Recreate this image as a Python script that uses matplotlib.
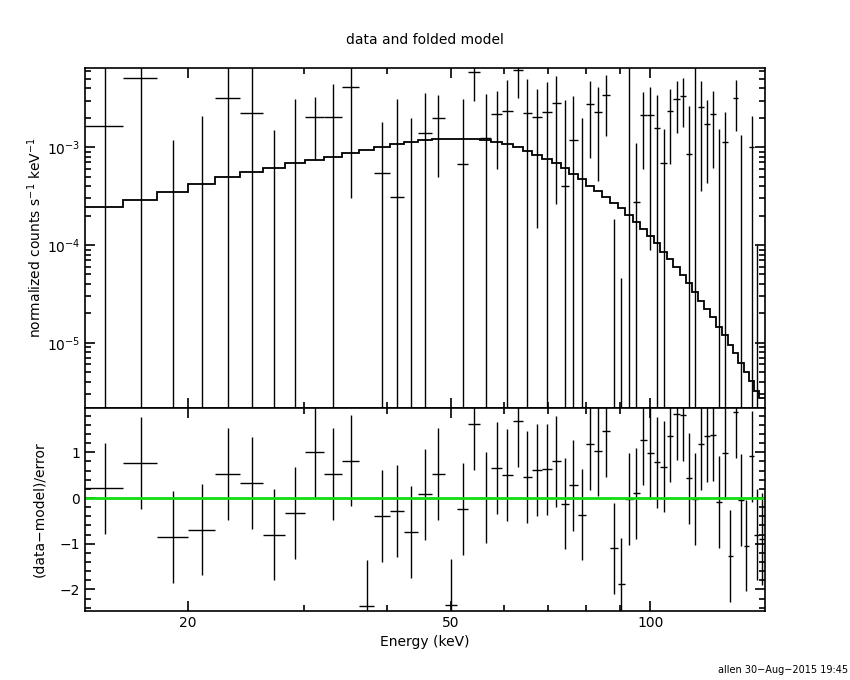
"""XSPEC-style plot: data and folded model with residuals."""

import matplotlib

matplotlib.use("Agg")
import matplotlib.pyplot as plt  # noqa: E402
import numpy as np  # noqa: E402
from matplotlib.ticker import FixedLocator, LogLocator, MultipleLocator, NullFormatter  # noqa: E402

# channel edges (keV)
edges = [14.0, 16.0, 18.0, 20.0, 22.0, 24.0, 26.0, 28.1, 30.1, 32.1, 34.2, 36.3,
         38.3, 40.4, 42.5, 44.6, 46.8, 48.9, 51.0, 53.1, 55.3, 57.5, 59.7, 61.9,
         64.1, 66.3, 68.6, 70.9, 73.2, 75.4, 77.6, 80.0, 82.2, 84.5, 86.9, 89.2,
         91.6, 94.0, 96.3, 98.7, 101.2, 103.5, 105.9, 108.3, 110.8, 113.3, 115.7,
         118.1, 120.6, 123.1, 125.7, 128.1, 130.7, 133.2, 135.7, 138.3, 140.9,
         143.4, 145.9, 148.9]

# folded model (counts s^-1 keV^-1)
model = [2.43e-4, 2.87e-4, 3.46e-4, 4.18e-4, 5.01e-4, 5.63e-4, 6.18e-4, 6.86e-4,
         7.47e-4, 8.01e-4, 8.68e-4, 9.45e-4, 1.014e-3, 1.073e-3, 1.141e-3, 1.188e-3,
         1.216e-3, 1.225e-3, 1.225e-3, 1.210e-3, 1.188e-3, 1.141e-3, 1.073e-3,
         1.000e-3, 9.25e-4, 8.42e-4, 7.64e-4, 6.91e-4, 6.10e-4, 5.37e-4, 4.71e-4,
         4.05e-4, 3.57e-4, 3.10e-4, 2.71e-4, 2.37e-4, 2.04e-4, 1.73e-4, 1.47e-4,
         1.24e-4, 1.04e-4, 8.54e-5, 7.19e-5, 5.91e-5, 4.90e-5, 4.05e-5, 3.33e-5,
         2.69e-5, 2.23e-5, 1.82e-5, 1.46e-5, 1.19e-5, 9.47e-6, 7.79e-6, 6.24e-6,
         5.05e-6, 4.08e-6, 3.20e-6, 2.70e-6]

# data rate and 1-sigma error
rate = [1.65e-3, 5.08e-3, -4.42e-3, -3.30e-3, 3.17e-3, 2.23e-3, -2.93e-3, -5.1e-4,
        2.03e-3, 2.06e-3, 4.11e-3, -6.1e-3, 5.42e-4, 3.10e-4, -1.25e-3, 1.40e-3,
        1.98e-3, -2.3e-3, 6.70e-4, 5.94e-3, 1.253e-3, 2.19e-3, 2.33e-3, 6.18e-3,
        2.23e-3, 2.03e-3, 2.28e-3, 2.82e-3, 3.99e-4, 1.18e-3, -3.86e-4, 2.77e-3,
        2.28e-3, 3.43e-3, -6.97e-4, -1.71e-4, -4e-5, 2.74e-4, 2.13e-3, 2.13e-3,
        1.565e-3, 6.86e-4, 2.33e-3, 3.10e-3, 3.35e-3, 8.48e-4, -1e-4, 2.56e-3,
        1.73e-3, 2.19e-3, -1.37e-4, 1.133e-3, -1.9e-3, 3.17e-3, -4.9e-5, -1.5e-3,
        1.0e-3, -3.84e-4, -3.0e-4]
rate_err = [6.7e-3, 6.2e-3, 5.6e-3, 5.39e-3, 5.04e-3, 5.05e-3, 4.43e-3, 3.63e-3,
            1.28e-3, 2.38e-3, 3.81e-3, 3.0e-3, 1.27e-3, 2.81e-3, 3.23e-3, 2.22e-3,
            1.48e-3, 1.5e-3, 2.45e-3, 2.94e-3, 2.26e-3, 1.59e-3, 2.56e-3, 3.0e-3,
            2.77e-3, 1.88e-3, 2.41e-3, 2.56e-3, 2.65e-3, 2.17e-3, 2.38e-3, 1.99e-3,
            1.83e-3, 2.12e-3, 8.8e-4, 2.17e-4, 8e-3, 8.4e-4, 1.53e-3, 2.04e-3,
            1.86e-3, 8.5e-4, 1.66e-3, 1.70e-3, 1.73e-3, 1.80e-3, 7e-3, 2.2e-3,
            1.3e-3, 1.57e-3, 1.68e-3, 1.18e-3, 1.5e-3, 1.70e-3, 1.385e-3, 1.4e-3,
            1.09e-3, 4.84e-4, 2.9e-4]

# (data-model)/error
resid = [0.21, 0.77, -0.85, -0.69, 0.53, 0.33, -0.80, -0.33, 1.00, 0.53,
         0.82, -2.36, -0.39, -0.28, -0.74, 0.08, 0.53, -2.34, -0.24, 1.61,
         0.01, 0.66, 0.50, 1.69, 0.46, 0.61, 0.63, 0.80, -0.12, 0.28,
         -0.36, 1.18, 1.04, 1.46, -1.10, -1.88, -0.02, 0.10, 1.28, 0.98,
         0.78, 0.69, 1.36, 1.83, 1.81, 0.43, -0.02, 1.18, 1.35, 1.38,
         -0.09, 0.98, -1.27, 1.88, -0.04, -1.04, 0.91, -0.80, -0.90]

x_ticks = [20, 50, 100]
x_minor = [30, 40, 60, 70, 80, 90]

plt.rcParams["font.family"] = ["DejaVu Sans"]

e = np.asarray(edges)
lo_e, hi_e = e[:-1], e[1:]
cen = 0.5 * (lo_e + hi_e)
r = np.asarray(rate)
s = np.asarray(rate_err)
res = np.asarray(resid)

fig = plt.figure(figsize=(8.5, 6.8), dpi=100)
ax1 = fig.add_axes([0.1, 0.4, 0.8, 0.5])
ax2 = fig.add_axes([0.1, 0.1015, 0.8, 0.2985], sharex=ax1)

floor = 1e-9
ylo, yhi = 2.15e-6, 6.48e-3

# top panel
ax1.set_xscale("log")
ax1.set_yscale("log")
up = np.clip(r + s, floor, None)
dn = np.clip(r - s, floor, None)
vis = up > floor
ax1.vlines(cen[vis], dn[vis], up[vis], color="k", lw=1.0)
pos = r > 0
ax1.hlines(r[pos], lo_e[pos], hi_e[pos], color="k", lw=1.0)
ax1.stairs(model, edges, color="k", lw=1.3, baseline=None)
ax1.set_xlim(edges[0], edges[-1])
ax1.set_ylim(ylo, yhi)
ax1.set_ylabel(r"normalized counts s$^{-1}$ keV$^{-1}$", fontsize=10, labelpad=2)
ax1.set_title("data and folded model", fontsize=10, pad=17)
ax1.yaxis.set_major_locator(LogLocator(base=10, numticks=10))
ax1.yaxis.set_minor_locator(LogLocator(base=10, subs=np.arange(2, 10), numticks=10))
ax1.yaxis.set_minor_formatter(NullFormatter())
plt.setp(ax1.get_xticklabels(), visible=False)

# residual panel
ax2.vlines(cen, res - 1, res + 1, color="k", lw=1.0)
ax2.hlines(res, lo_e, hi_e, color="k", lw=1.0)
ax2.axhline(0, color="#11dd11", lw=2.0)
ax2.set_ylim(-2.47, 1.97)
ax2.yaxis.set_major_locator(MultipleLocator(1))
ax2.yaxis.set_minor_locator(MultipleLocator(0.2))
ax2.set_ylabel("(data\u2212model)/error", fontsize=10, labelpad=10)
ax2.set_xlabel("Energy (keV)", fontsize=10, labelpad=4)
ax2.xaxis.set_major_locator(FixedLocator(x_ticks))
ax2.xaxis.set_minor_locator(FixedLocator(x_minor))
ax2.set_xticklabels([str(t) for t in x_ticks])
ax2.xaxis.set_minor_formatter(NullFormatter())

for ax in (ax1, ax2):
    for sp in ax.spines.values():
        sp.set_linewidth(1.2)
    ax.tick_params(which="both", direction="in", top=True, right=True,
                   labelsize=10, width=1.2)
    ax.tick_params(which="major", length=7)
    ax.tick_params(which="minor", length=4)

fig.text(0.998, 0.008, "allen 30\u2212Aug\u22122015 19:45", ha="right",
         va="bottom", fontsize=7)

fig.savefig("out.png", dpi=100)
